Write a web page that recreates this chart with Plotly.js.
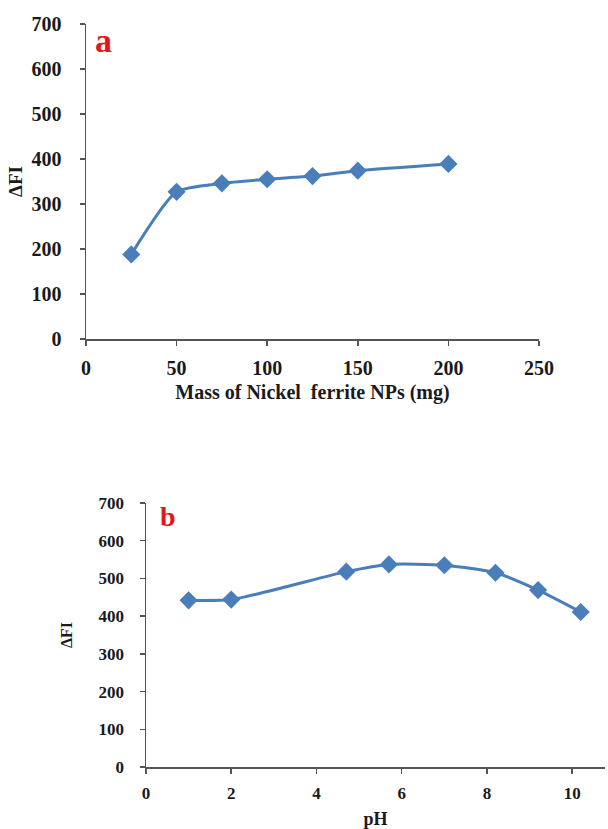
<!DOCTYPE html>
<html>
<head>
<meta charset="utf-8">
<script src="https://cdn.plot.ly/plotly-3.0.1.min.js"></script>
<style>html,body{margin:0;padding:0;background:#fff;}#chart{width:608px;height:829px;}</style>
</head>
<body>
<div id="chart"></div>
<script>
// Panel a: mass of nickel ferrite NPs vs ΔFI
const massMg = [25, 50, 75, 100, 125, 150, 200];
const dfiMass = [188, 327, 346, 355, 362, 374, 389];
// Panel b: pH vs ΔFI
const phValues = [1, 2, 4.7, 5.7, 7, 8.2, 9.2, 10.2];
const dfiPh = [442, 444, 518, 537, 535, 515, 469, 411];

const blue = '#4a7ebb';
const serif = '"Liberation Serif", "Times New Roman", serif';
const textColor = '#1a1a1a';

const traceStyle = {
  mode: 'lines+markers',
  line: {color: blue, width: 3, shape: 'spline', smoothing: 0.6},
  marker: {symbol: 'diamond', size: 14, color: blue, line: {width: 0}},
  showlegend: false,
  hoverinfo: 'x+y'
};

const traces = [
  Object.assign({x: massMg, y: dfiMass, xaxis: 'x', yaxis: 'y'}, traceStyle),
  Object.assign({x: phValues, y: dfiPh, xaxis: 'x2', yaxis: 'y2'}, traceStyle)
];

function axisBase(size) {
  return {
    showgrid: false, zeroline: false, showline: true,
    linecolor: '#555', linewidth: 1.5,
    ticks: 'outside', ticklen: 5, tickwidth: 1.5, tickcolor: '#555',
    tickfont: {family: serif, size: size, color: textColor, weight: 'bold'}
  };
}

const layout = {
  width: 608, height: 829,
  margin: {l: 0, r: 0, t: 0, b: 0},
  paper_bgcolor: '#fff', plot_bgcolor: '#fff',
  xaxis: Object.assign(axisBase(20), {
    domain: [86/608, 539/608], range: [0, 250], dtick: 50, anchor: 'y',
    ticklabelstandoff: 5,
    title: {text: 'Mass of Nickel  ferrite NPs (mg)', standoff: 7,
      font: {family: serif, size: 20, color: textColor, weight: 'bold'}}
  }),
  yaxis: Object.assign(axisBase(20), {
    domain: [1 - 339/829, 1 - 24/829], range: [0, 700], dtick: 100, anchor: 'x',
    ticklabelstandoff: 14,
    title: {text: 'ΔFI', standoff: 4,
      font: {family: serif, size: 19, color: textColor, weight: 'bold'}}
  }),
  xaxis2: Object.assign(axisBase(17), {
    domain: [146/608, 605/608], range: [0, 10.77], dtick: 2, anchor: 'y2',
    ticklabelstandoff: 5,
    title: {text: 'pH', standoff: 16,
      font: {family: serif, size: 18, color: textColor, weight: 'bold'}}
  }),
  yaxis2: Object.assign(axisBase(17), {
    domain: [1 - 767/829, 1 - 503/829], range: [0, 700], dtick: 100, anchor: 'x2',
    ticklabelstandoff: 12,
    title: {text: 'ΔFI', standoff: 22,
      font: {family: serif, size: 16, color: textColor, weight: 'bold'}}
  }),
  annotations: [
    {text: 'a', xref: 'paper', yref: 'paper', x: 103/608, y: 1 - 41/829,
     xanchor: 'center', yanchor: 'middle', showarrow: false,
     font: {family: serif, size: 34, color: '#e8141c', weight: 'bold'}},
    {text: 'b', xref: 'paper', yref: 'paper', x: 168/608, y: 1 - 516/829,
     xanchor: 'center', yanchor: 'middle', showarrow: false,
     font: {family: serif, size: 28, color: '#e8141c', weight: 'bold'}}
  ]
};

Plotly.newPlot('chart', traces, layout, {displayModeBar: false, staticPlot: true});
</script>
</body>
</html>
